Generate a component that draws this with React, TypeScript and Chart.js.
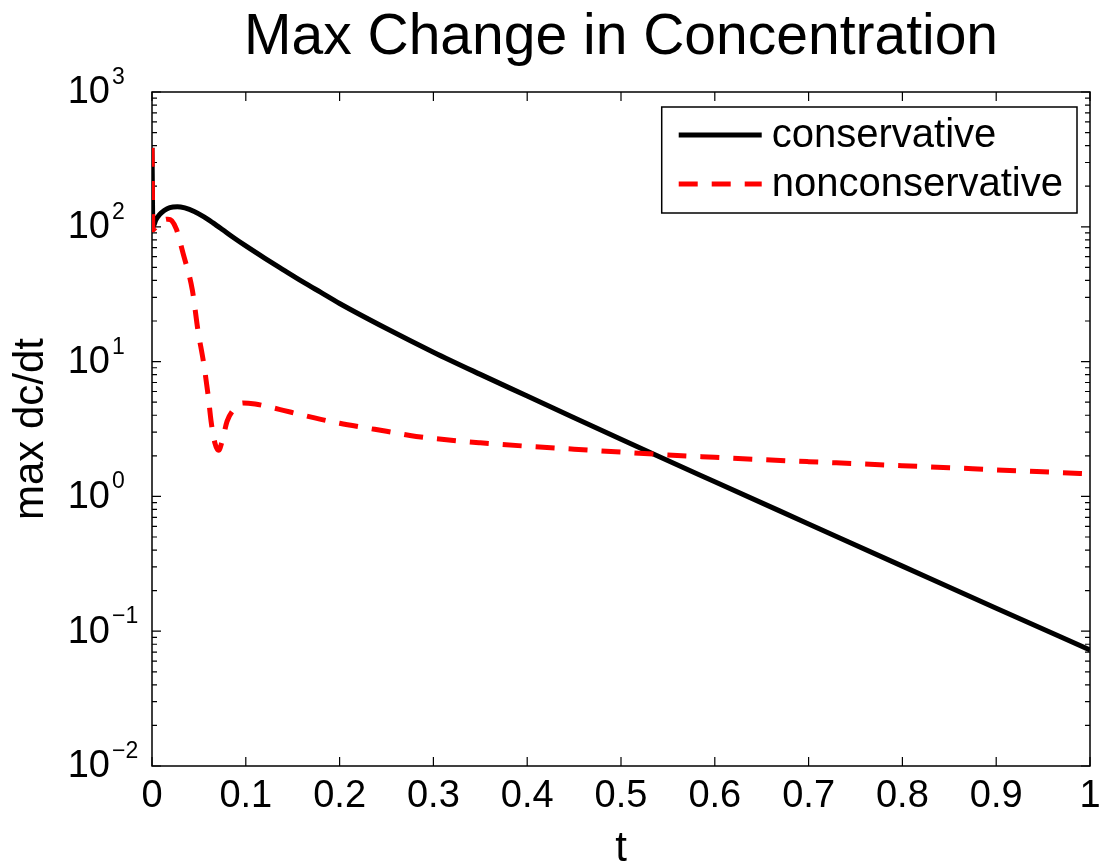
import React, { useEffect, useRef } from "react";
import { Chart, registerables } from "chart.js";

Chart.register(...registerables);

const FONT = '"Liberation Sans", Arial, Helvetica, sans-serif';

const chartTitle = "Max Change in Concentration";
const xAxisTitle = "t";
const yAxisTitle = "max dc/dt";
const seriesLabels = ["conservative", "nonconservative"];

const xTickValues = [0, 0.1, 0.2, 0.3, 0.4, 0.5, 0.6, 0.7, 0.8, 0.9, 1];
const xTickLabels = ["0", "0.1", "0.2", "0.3", "0.4", "0.5", "0.6", "0.7", "0.8", "0.9", "1"];
const yTickValues = [0.01, 0.1, 1, 10, 100, 1000];
const yTickExponents = ["\u22122", "\u22121", "0", "1", "2", "3"];

const tConservative = [
  0, 0.001, 0.004, 0.008, 0.013, 0.019, 0.027, 0.035, 0.045, 0.055, 0.065, 0.075, 0.086,
  0.1, 0.12, 0.14, 0.16, 0.18, 0.2, 0.25, 0.3, 0.35, 0.4, 0.45, 0.5, 0.538, 0.6, 0.7, 0.8, 0.9, 1.0,
];
const conservative = [
  385, 100, 112, 123, 132, 139, 141, 138, 130, 119, 107, 95.5, 84,
  72.1, 58.6, 48.0, 39.4, 32.6, 27.0, 17.6, 11.75, 8.04, 5.55, 3.83, 2.65, 2.01, 1.285, 0.625, 0.304, 0.148, 0.0726,
];

const tNonconservative = [
  0, 0.001, 0.006, 0.012, 0.017, 0.021, 0.026, 0.033, 0.043, 0.049, 0.055, 0.06, 0.063, 0.067,
  0.071, 0.075, 0.08, 0.087, 0.097, 0.11, 0.125, 0.14, 0.16, 0.18, 0.2, 0.225, 0.25, 0.275, 0.3,
  0.35, 0.4, 0.45, 0.5, 0.55, 0.6, 0.65, 0.7, 0.75, 0.8, 0.85, 0.9, 0.95, 1.0,
];
const nonconservative = [
  385, 95, 104, 112, 114, 111, 96, 64, 34, 17, 9.8, 5.5, 3.6, 2.5,
  2.2, 2.6, 3.6, 4.4, 4.93, 4.84, 4.61, 4.35, 4.02, 3.73, 3.49, 3.25, 3.04, 2.83, 2.69,
  2.5, 2.355, 2.24, 2.13, 2.03, 1.95, 1.875, 1.81, 1.75, 1.69, 1.633, 1.574, 1.521, 1.469,
];

const toPoints = (ts: number[], vs: number[]) => ts.map((t, i) => ({ x: t, y: vs[i] }));

const framePlugin = {
  id: "matlabFrame",
  beforeDatasetsDraw(chart: any) {
    const { ctx, chartArea: a, scales } = chart;
    ctx.save();
    ctx.strokeStyle = "#000";
    ctx.lineWidth = 1.5;
    ctx.strokeRect(a.left, a.top, a.right - a.left, a.bottom - a.top);
    ctx.lineWidth = 1.2;
    ctx.beginPath();
    for (const v of xTickValues) {
      const px = scales.x.getPixelForValue(v);
      ctx.moveTo(px, a.bottom);
      ctx.lineTo(px, a.bottom - 9);
      ctx.moveTo(px, a.top);
      ctx.lineTo(px, a.top + 9);
    }
    yTickValues.forEach((v, i) => {
      const py = scales.y.getPixelForValue(v);
      ctx.moveTo(a.left, py);
      ctx.lineTo(a.left + 9, py);
      ctx.moveTo(a.right, py);
      ctx.lineTo(a.right - 9, py);
      if (i < yTickValues.length - 1) {
        for (let m = 2; m <= 9; m++) {
          const pm = scales.y.getPixelForValue(v * m);
          ctx.moveTo(a.left, pm);
          ctx.lineTo(a.left + 5, pm);
          ctx.moveTo(a.right, pm);
          ctx.lineTo(a.right - 5, pm);
        }
      }
    });
    ctx.stroke();
    ctx.restore();
  },
  afterDatasetsDraw(chart: any) {
    const { ctx, chartArea: a } = chart;
    const datasets = chart.data.datasets;
    ctx.save();
    ctx.font = `40px ${FONT}`;
    let maxW = 0;
    datasets.forEach((d: any) => {
      maxW = Math.max(maxW, ctx.measureText(d.label).width);
    });
    const padL = 17;
    const sampleW = 83;
    const gap = 10;
    const padR = 14;
    const w = padL + sampleW + gap + maxW + padR;
    const h = 106;
    const right = a.right - 13;
    const left = right - w;
    const top = a.top + 15;
    ctx.fillStyle = "#fff";
    ctx.fillRect(left, top, w, h);
    ctx.strokeStyle = "#000";
    ctx.lineWidth = 1.5;
    ctx.strokeRect(left, top, w, h);
    datasets.forEach((d: any, i: number) => {
      const y = top + 28 + i * 49;
      ctx.save();
      ctx.strokeStyle = d.borderColor;
      ctx.lineWidth = d.borderWidth;
      ctx.setLineDash(d.borderDash || []);
      ctx.beginPath();
      ctx.moveTo(left + padL, y);
      ctx.lineTo(left + padL + sampleW, y);
      ctx.stroke();
      ctx.restore();
      ctx.fillStyle = "#000";
      ctx.textAlign = "left";
      ctx.textBaseline = "middle";
      ctx.fillText(d.label, left + padL + sampleW + gap, y + 1);
    });
    ctx.restore();
  },
  afterDraw(chart: any) {
    const { ctx, chartArea: a, scales } = chart;
    ctx.save();
    ctx.fillStyle = "#000";
    yTickValues.forEach((v, i) => {
      const py = scales.y.getPixelForValue(v);
      ctx.font = `38px ${FONT}`;
      ctx.textAlign = "right";
      ctx.textBaseline = "middle";
      ctx.fillText("10", a.left - 42, py + 1);
      ctx.font = `23px ${FONT}`;
      ctx.textAlign = "left";
      ctx.textBaseline = "alphabetic";
      ctx.fillText(yTickExponents[i], a.left - 40, py - 8);
    });
    ctx.restore();
  },
};

export default function App() {
  const canvasRef = useRef<HTMLCanvasElement | null>(null);

  useEffect(() => {
    if (!canvasRef.current) return;
    const chart = new Chart(canvasRef.current, {
      type: "line",
      data: {
        datasets: [
          {
            label: seriesLabels[0],
            data: toPoints(tConservative, conservative),
            borderColor: "#000000",
            borderWidth: 5,
            pointRadius: 0,
            fill: false,
            order: 2,
            cubicInterpolationMode: "monotone",
          },
          {
            label: seriesLabels[1],
            data: toPoints(tNonconservative, nonconservative),
            borderColor: "#ff0000",
            borderWidth: 5,
            borderDash: [19, 14],
            pointRadius: 0,
            fill: false,
            order: 1,
            cubicInterpolationMode: "monotone",
          },
        ],
      } as any,
      options: {
        animation: false,
        responsive: false,
        events: [],
        layout: { padding: { left: 0, right: 9, top: 0, bottom: 0 } },
        plugins: {
          legend: { display: false },
          tooltip: { enabled: false },
          title: {
            display: true,
            fullSize: false,
            text: chartTitle,
            color: "#000",
            font: { size: 57, family: FONT, weight: "normal" as any, lineHeight: 1.2 },
            padding: { top: 4, bottom: 19.6 },
          },
        },
        scales: {
          x: {
            type: "linear",
            min: 0,
            max: 1,
            grid: { display: false, drawTicks: false },
            border: { display: false },
            afterBuildTicks: (scale: any) => {
              scale.ticks = xTickValues.map((v) => ({ value: v }));
            },
            afterFit: (scale: any) => {
              scale.height = 96;
              scale.paddingLeft = 0;
              scale.paddingRight = 0;
            },
            ticks: {
              color: "#000",
              padding: 8,
              maxRotation: 0,
              autoSkip: false,
              font: { size: 38, family: FONT },
              callback: (_v: any, i: number) => xTickLabels[i],
            },
            title: {
              display: true,
              text: xAxisTitle,
              color: "#000",
              font: { size: 42, family: FONT, lineHeight: 0.6 },
              padding: { top: 0, bottom: 0 },
            },
          },
          y: {
            type: "logarithmic",
            min: 0.01,
            max: 1000,
            grid: { display: false, drawTicks: false },
            border: { display: false },
            afterBuildTicks: (scale: any) => {
              scale.ticks = yTickValues.map((v) => ({ value: v }));
            },
            afterFit: (scale: any) => {
              scale.width = 152;
              scale.paddingTop = 0;
              scale.paddingBottom = 0;
            },
            ticks: { display: false },
            title: {
              display: true,
              text: yAxisTitle,
              color: "#000",
              font: { size: 42, family: FONT, lineHeight: 1.2 },
              padding: { top: 6, bottom: 0 },
            },
          },
        },
      } as any,
      plugins: [framePlugin],
    });
    return () => chart.destroy();
  }, []);

  return (
    <div style={{ position: "fixed", left: 0, top: 0, width: 1099, height: 862, background: "#fff" }}>
      <canvas ref={canvasRef} width={1099} height={862} style={{ display: "block" }} />
    </div>
  );
}
